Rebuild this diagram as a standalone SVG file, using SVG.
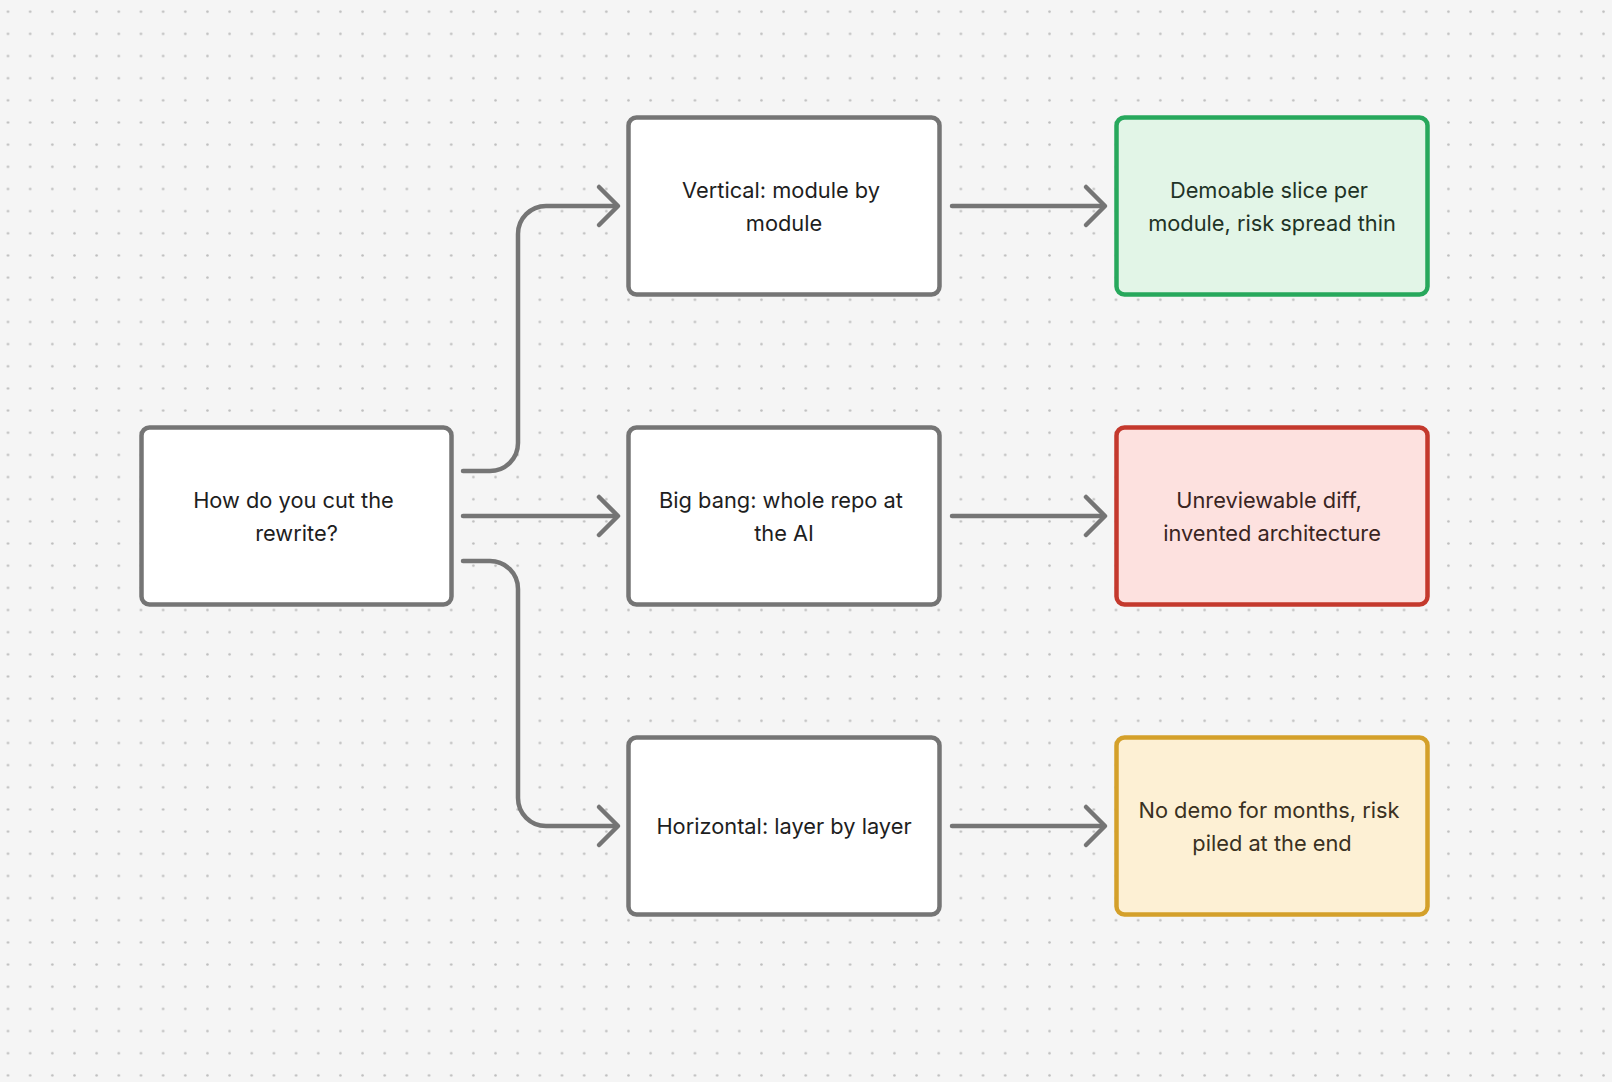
<svg xmlns="http://www.w3.org/2000/svg" width="1612" height="1082" viewBox="0 0 1612 1082">
  <defs>
    <pattern id="dots" patternUnits="userSpaceOnUse" x="-3.08" y="0.62" width="22.16" height="22.16">
      <circle cx="11.08" cy="11.08" r="1.3" fill="#bdbdbd"/>
    </pattern>
    <style>
      .node { stroke-width: 4.5; }
      .plain { fill: #ffffff; stroke: #757575; }
      .green { fill: #e2f5e7; stroke: #27a85c; }
      .red { fill: #fde1df; stroke: #c4392d; }
      .yellow { fill: #fdf0d4; stroke: #d4a02a; }
      .label { font-family: Inter, "Noto Sans", "Liberation Sans", sans-serif; font-size: 21.8px; text-anchor: middle; fill: #1e1e1e; }
      .lg { fill: #1f3326; }
      .lr { fill: #3a2523; }
      .ly { fill: #3a3122; }
      .conn { fill: none; stroke: #757575; stroke-width: 4.5; stroke-linecap: round; stroke-linejoin: round; }
    </style>
  </defs>
  <rect x="0" y="0" width="1612" height="1082" fill="#f5f5f5"/>
  <rect x="0" y="0" width="1612" height="1082" fill="url(#dots)"/>

  <g id="connectors">
    <path class="conn" d="M463 471 H490 A28 28 0 0 0 518 443 V234 A28 28 0 0 1 546 206 H617"/>
    <path class="conn" d="M599 187 L618 206 L599 225"/>
    <path class="conn" d="M463 516 H617"/>
    <path class="conn" d="M599 497 L618 516 L599 535"/>
    <path class="conn" d="M463 561 H490 A28 28 0 0 1 518 589 V798 A28 28 0 0 0 546 826 H617"/>
    <path class="conn" d="M599 807 L618 826 L599 845"/>
    <path class="conn" d="M952 206 H1104"/>
    <path class="conn" d="M1086 187 L1105 206 L1086 225"/>
    <path class="conn" d="M952 516 H1104"/>
    <path class="conn" d="M1086 497 L1105 516 L1086 535"/>
    <path class="conn" d="M952 826 H1104"/>
    <path class="conn" d="M1086 807 L1105 826 L1086 845"/>
  </g>

  <g id="node-question">
    <rect class="node plain" x="141.5" y="427.5" width="310" height="177" rx="8"/>
    <text class="label" x="293.5" y="507.5">How do you cut the</text>
    <text class="label" x="296.5" y="540.5">rewrite?</text>
  </g>
  <g id="node-vertical">
    <rect class="node plain" x="628.5" y="117.5" width="311" height="177" rx="8"/>
    <text class="label" x="781" y="197.5">Vertical: module by</text>
    <text class="label" x="784" y="230.5">module</text>
  </g>
  <g id="node-bigbang">
    <rect class="node plain" x="628.5" y="427.5" width="311" height="177" rx="8"/>
    <text class="label" x="781" y="507.5">Big bang: whole repo at</text>
    <text class="label" x="784" y="540.5">the AI</text>
  </g>
  <g id="node-horizontal">
    <rect class="node plain" x="628.5" y="737.5" width="311" height="177" rx="8"/>
    <text class="label" x="784" y="834">Horizontal: layer by layer</text>
  </g>
  <g id="node-demoable">
    <rect class="node green" x="1116.5" y="117.5" width="311" height="177" rx="8"/>
    <text class="label lg" x="1269" y="197.5">Demoable slice per</text>
    <text class="label lg" x="1272" y="230.5">module, risk spread thin</text>
  </g>
  <g id="node-unreviewable">
    <rect class="node red" x="1116.5" y="427.5" width="311" height="177" rx="8"/>
    <text class="label lr" x="1269" y="507.5">Unreviewable diff,</text>
    <text class="label lr" x="1272" y="540.5">invented architecture</text>
  </g>
  <g id="node-nodemo">
    <rect class="node yellow" x="1116.5" y="737.5" width="311" height="177" rx="8"/>
    <text class="label ly" x="1269" y="817.5">No demo for months, risk</text>
    <text class="label ly" x="1272" y="850.5">piled at the end</text>
  </g>
</svg>
